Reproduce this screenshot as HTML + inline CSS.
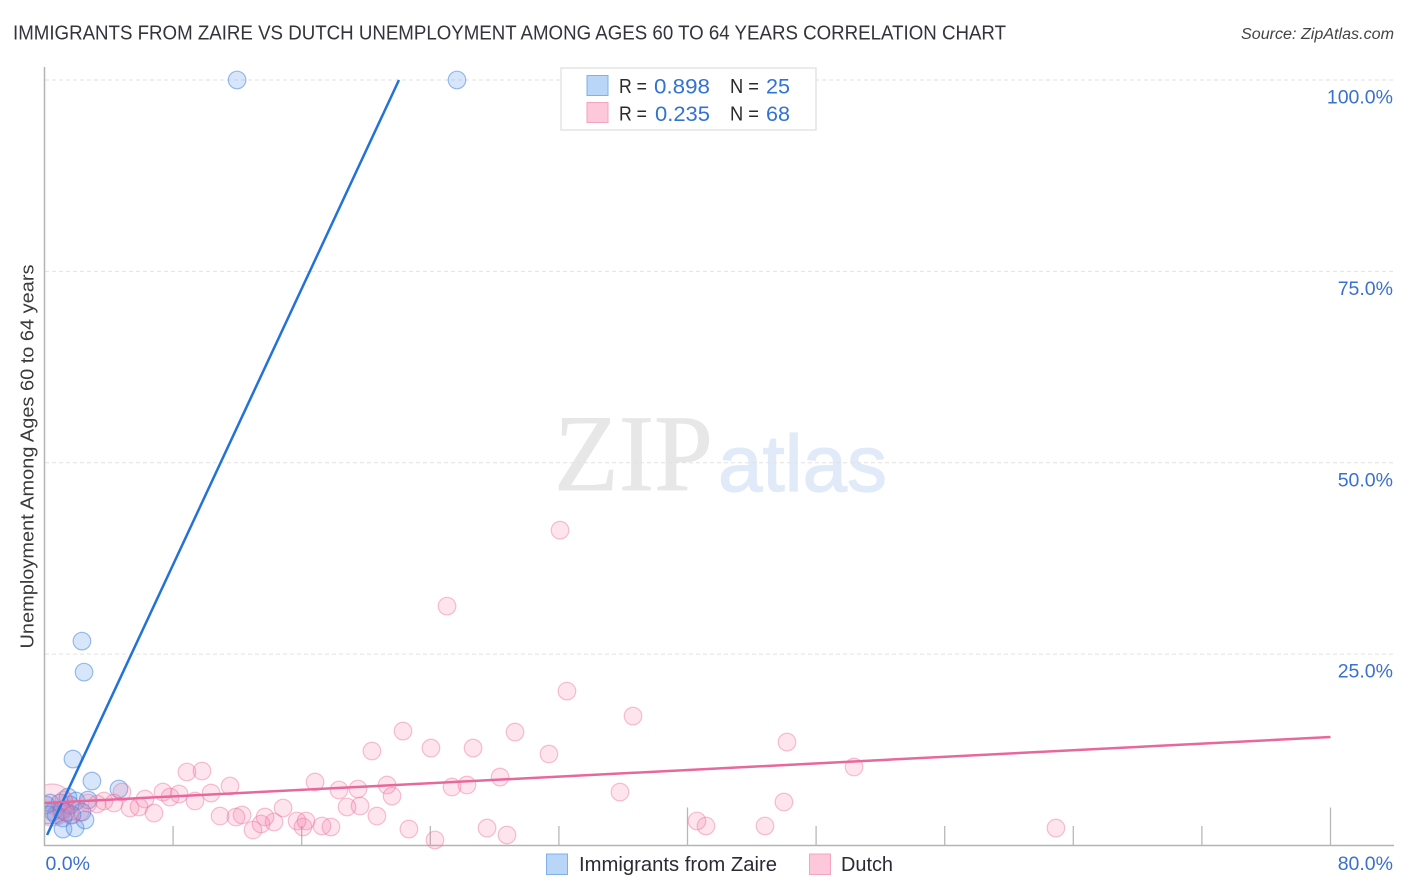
<!DOCTYPE html>
<html lang="en">
<head>
<meta charset="utf-8">
<title>Immigrants from Zaire vs Dutch Unemployment Correlation Chart</title>
<style>
html,body{margin:0;padding:0;background:#fff;width:1406px;height:892px;overflow:hidden}
svg{display:block}
text{font-family:"Liberation Sans",sans-serif}
</style>
</head>
<body>
<svg id="chart" width="1406" height="892" viewBox="0 0 1406 892" xmlns="http://www.w3.org/2000/svg">
  <defs><clipPath id="plot-clip"><rect x="45" y="0" width="1361" height="892"/></clipPath></defs>
  <rect x="0" y="0" width="1406" height="892" fill="#fff"/>
  <text x="13" y="39.5" font-size="20" fill="#33333a" textLength="993" lengthAdjust="spacingAndGlyphs">IMMIGRANTS FROM ZAIRE VS DUTCH UNEMPLOYMENT AMONG AGES 60 TO 64 YEARS CORRELATION CHART</text>
  <text x="1241" y="39" font-size="15.5" font-style="italic" fill="#444" textLength="153" lengthAdjust="spacingAndGlyphs">Source: ZipAtlas.com</text>
  <text x="554" y="490" font-size="109" fill="#e7e7e7" stroke="#e7e7e7" stroke-width="0.7" style="font-family:'Liberation Serif',serif" textLength="159" lengthAdjust="spacingAndGlyphs">ZIP</text>
  <text x="718" y="491" font-size="80" fill="#e1eaf8" stroke="#e1eaf8" stroke-width="1.2" textLength="169" lengthAdjust="spacingAndGlyphs">atlas</text>
  <g id="grid"></g>
  <g id="axes"></g>
  <g id="dots-zaire" clip-path="url(#plot-clip)"></g>
  <g id="dots-dutch" clip-path="url(#plot-clip)"></g>
  <g id="trends"></g>
  <g id="labels"></g>
  <text transform="translate(33.5,456.5) rotate(-90)" font-size="18.5" fill="#3a3a3a" text-anchor="middle" textLength="384" lengthAdjust="spacingAndGlyphs">Unemployment Among Ages 60 to 64 years</text>

  <g>
    <rect x="561" y="68" width="255" height="62" fill="#fff" stroke="#e0e0e0" stroke-width="1.3"/>
    <rect x="587" y="75.5" width="21" height="20" fill="#b9d5f8" stroke="#7fb0ea" stroke-width="1"/>
    <rect x="587" y="102.5" width="21" height="20" fill="#fcc8da" stroke="#f3a4c0" stroke-width="1"/>
    <text x="619" y="93" font-size="20" fill="#2b2b2b" textLength="28" lengthAdjust="spacingAndGlyphs">R =</text>
    <text x="654" y="93.5" font-size="21.5" fill="#3272d2" textLength="56" lengthAdjust="spacingAndGlyphs">0.898</text>
    <text x="730" y="93" font-size="20" fill="#2b2b2b" textLength="29" lengthAdjust="spacingAndGlyphs">N =</text>
    <text x="766" y="93.5" font-size="21.5" fill="#3272d2" textLength="24" lengthAdjust="spacingAndGlyphs">25</text>
    <text x="619" y="120.5" font-size="20" fill="#2b2b2b" textLength="28" lengthAdjust="spacingAndGlyphs">R =</text>
    <text x="655" y="121" font-size="21.5" fill="#3272d2" textLength="55" lengthAdjust="spacingAndGlyphs">0.235</text>
    <text x="730" y="120.5" font-size="20" fill="#2b2b2b" textLength="29" lengthAdjust="spacingAndGlyphs">N =</text>
    <text x="766" y="121" font-size="21.5" fill="#3272d2" textLength="24" lengthAdjust="spacingAndGlyphs">68</text>
  </g>

  <g>
    <rect x="546.5" y="854" width="21" height="20.5" fill="#b9d5f8" stroke="#7fb0ea" stroke-width="1"/>
    <text x="579" y="871" font-size="20" fill="#2b2b33" textLength="198" lengthAdjust="spacingAndGlyphs">Immigrants from Zaire</text>
    <rect x="809.5" y="854" width="21" height="20.5" fill="#fcc8da" stroke="#f3a4c0" stroke-width="1"/>
    <text x="841" y="871" font-size="20" fill="#2b2b33" textLength="52" lengthAdjust="spacingAndGlyphs">Dutch</text>
  </g>
</svg>
<script>
const yTicks = [100, 75, 50, 25];
const yTickLabels = ["100.0%", "75.0%", "50.0%", "25.0%"];
const xTicks = [0, 8, 16, 24, 32, 40, 48, 56, 64, 72, 80];
const xMajorTicks = [0, 40, 80];
const xEdgeLabels = ["0.0%", "80.0%"];

const zaireX = [11.98,25.66,2.33,2.46,1.77,2.95,4.63,0.34,0.53,0.72,0.96,1.15,1.15,1.9,2.52,1.46,1.96,2.71,2.33,0.09,0.22,1.09,1.59,1.34,1.71];
const zaireY = [100,100,26.7,22.65,11.29,8.42,7.38,5.55,4.4,3.98,5.55,3.59,2.15,2.3,3.33,6.33,5.81,5.94,4.37,5.29,3.98,4.63,5.29,4.37,3.98];

const dutchX = [32.07,25.04,32.5,36.61,22.3,29.27,46.19,20.37,24.04,26.66,31.38,50.36,8.86,9.8,11.54,16.83,28.34,21.31,25.35,26.28,18.32,19.5,21.62,35.8,7.37,8.37,10.36,4.82,6.25,7.81,9.36,46.0,14.84,18.82,19.63,20.68,12.29,10.92,11.91,13.72,15.71,16.27,14.28,13.47,16.08,17.26,17.82,12.97,40.59,41.15,44.82,62.92,22.67,27.53,28.77,24.29,6.81,5.32,5.88,4.32,3.7,3.27,2.71,2.21,1.59,0.96,0.47,1.21];
const dutchY = [41.19,31.27,20.17,16.91,14.95,14.82,13.51,12.34,12.73,12.73,11.95,10.25,9.6,9.73,7.77,8.29,8.94,7.9,7.64,7.9,7.25,7.38,6.46,6.98,6.98,6.72,6.85,6.98,6.07,6.33,5.81,5.68,4.9,5.03,5.16,3.85,3.98,3.85,3.72,3.72,3.2,3.2,3.07,2.81,2.42,2.55,2.42,2.02,3.2,2.55,2.55,2.28,2.15,2.28,1.37,0.72,4.24,4.9,5.03,5.55,5.81,5.42,5.55,4.37,3.98,4.63,5.29,5.94];
const dutchLargeIndex = [66];

const zaireTrendX = [0.16, 22.05];
const zaireTrendY = [1.37, 100];
const dutchTrendX = [0, 80];
const dutchTrendY = [5.55, 14.17];

const NS = 'http://www.w3.org/2000/svg';
function xScale(v) { return 44.5 + v * 16.075; }
function yScale(v) { return 845.5 - v * 7.655; }
function make(tag, attrs, parent) {
  const el = document.createElementNS(NS, tag);
  for (const k in attrs) el.setAttribute(k, attrs[k]);
  parent.appendChild(el);
  return el;
}

const grid = document.getElementById('grid');
const axes = document.getElementById('axes');
const labels = document.getElementById('labels');
const dotsZaire = document.getElementById('dots-zaire');
const dotsDutch = document.getElementById('dots-dutch');
const trends = document.getElementById('trends');

yTicks.forEach(function (t, i) {
  const line = make('line', {x1: 45, x2: 1393, y1: yScale(t), y2: yScale(t), stroke: '#e2e2e2', 'stroke-width': 1, 'stroke-dasharray': '4 3'}, grid);
  
  
  const label = make('text', {x: 1393, y: yScale(t) + 23.5, 'font-size': 19.5, fill: '#3a70cf', 'text-anchor': 'end'}, labels);
  
  
  label.textContent = yTickLabels[i];
});

const yAxis = make('line', {x1: 44.5, x2: 44.5, y1: 67, y2: 846, stroke: '#b4b4b4', 'stroke-width': 1.5}, axes);


const xAxis = make('line', {x1: 44, x2: 1394, y1: 845.5, y2: 845.5, stroke: '#b4b4b4', 'stroke-width': 1.5}, axes);



xTicks.forEach(function (t) {
  if (t === 0) return;
  const top = xMajorTicks.indexOf(t) >= 0 ? 807.5 : 826;
  const tick = make('line', {x1: xScale(t), x2: xScale(t), y1: top, y2: 845.5, stroke: '#b8b8b8', 'stroke-width': 1.3}, axes);
  
  
});

const xLabelStart = make('text', {x: 45.5, y: 870, 'font-size': 19.5, fill: '#3a70cf'}, labels);


xLabelStart.textContent = xEdgeLabels[0];
const xLabelEnd = make('text', {x: 1393, y: 870, 'font-size': 19.5, fill: '#3a70cf', 'text-anchor': 'end'}, labels);


xLabelEnd.textContent = xEdgeLabels[1];

zaireX.forEach(function (v, i) {
  const dot = make('circle', {cx: xScale(v), cy: yScale(zaireY[i]), r: 8.8, fill: 'rgba(96,155,238,0.25)', stroke: 'rgba(45,115,215,0.45)', 'stroke-width': 1.2}, dotsZaire);
  
  
});

dutchX.forEach(function (v, i) {
  const large = dutchLargeIndex.indexOf(i) >= 0;
  const dot = make('circle', {cx: xScale(v), cy: yScale(dutchY[i]), r: large ? 21 : 8.8, fill: 'rgba(244,120,165,0.2)', stroke: 'rgba(236,110,155,0.42)', 'stroke-width': 1.2}, dotsDutch);
  
  
});

const zaireTrend = make('line', {x1: xScale(zaireTrendX[0]), y1: yScale(zaireTrendY[0]), x2: xScale(zaireTrendX[1]), y2: yScale(zaireTrendY[1]), stroke: '#2372d9', 'stroke-width': 2.5}, trends);


const dutchTrend = make('line', {x1: xScale(dutchTrendX[0]), y1: yScale(dutchTrendY[0]), x2: xScale(dutchTrendX[1]), y2: yScale(dutchTrendY[1]), stroke: '#e8689c', 'stroke-width': 2.5}, trends);


</script>
</body>
</html>
